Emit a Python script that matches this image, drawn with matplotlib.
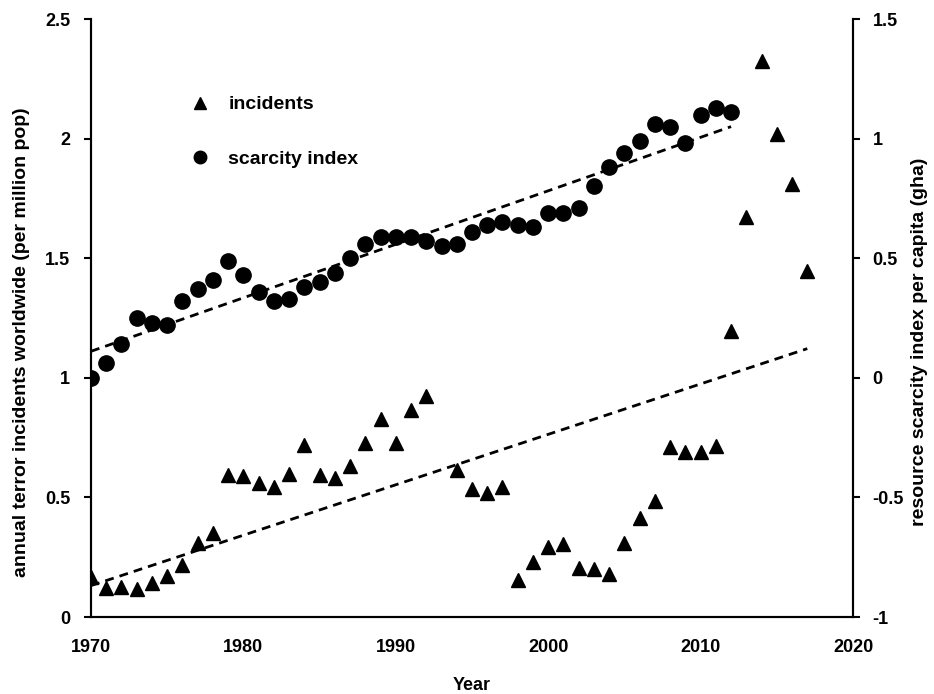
import numpy as np
import matplotlib
matplotlib.use("Agg")
import matplotlib.pyplot as plt
from matplotlib.lines import Line2D

# incidents (per million pop), 1993 missing
inc_years = [1970, 1971, 1972, 1973, 1974, 1975, 1976, 1977, 1978, 1979,
             1980, 1981, 1982, 1983, 1984, 1985, 1986, 1987, 1988, 1989,
             1990, 1991, 1992, 1994, 1995, 1996, 1997, 1998, 1999, 2000,
             2001, 2002, 2003, 2004, 2005, 2006, 2007, 2008, 2009, 2010,
             2011, 2012, 2013, 2014, 2015, 2016, 2017]
incidents = [0.166, 0.120, 0.127, 0.116, 0.143, 0.171, 0.217, 0.308, 0.350, 0.594,
             0.591, 0.561, 0.542, 0.598, 0.719, 0.594, 0.580, 0.631, 0.726, 0.826,
             0.729, 0.865, 0.924, 0.613, 0.536, 0.520, 0.545, 0.155, 0.229, 0.291,
             0.304, 0.204, 0.199, 0.178, 0.311, 0.413, 0.486, 0.709, 0.691, 0.691,
             0.715, 1.197, 1.674, 2.323, 2.020, 1.809, 1.448]

# resource scarcity index per capita (gha)
sc_years = list(range(1970, 2013))
scarcity = [0.00, 0.06, 0.14, 0.25, 0.23, 0.22, 0.32, 0.37, 0.41, 0.49,
            0.43, 0.36, 0.32, 0.33, 0.38, 0.40, 0.44, 0.50, 0.56, 0.59,
            0.59, 0.59, 0.57, 0.55, 0.56, 0.61, 0.64, 0.65, 0.64, 0.63,
            0.69, 0.69, 0.71, 0.80, 0.88, 0.94, 0.99, 1.06, 1.05, 0.98,
            1.10, 1.13, 1.11]

x_ticks = [1970, 1980, 1990, 2000, 2010, 2020]
left_ticks = [0, 0.5, 1, 1.5, 2, 2.5]
right_ticks = [-1, -0.5, 0, 0.5, 1, 1.5]

plt.rcParams['font.family'] = ['Liberation Sans', 'DejaVu Sans']
plt.rcParams['font.weight'] = 'bold'

fig = plt.figure(figsize=(9.34, 6.94), dpi=100)
ax = fig.add_axes([91/934, 1-617/694, (853-91)/934, (617-19)/694])
ax2 = ax.twinx()

dash = (0, (3.2, 2.2))

# incidents
ax.plot(inc_years, incidents, linestyle='none', marker='^', color='black',
        markersize=10.5, zorder=3)
p = np.polyfit(inc_years, incidents, 1)
xs = np.array([inc_years[0], inc_years[-1]])
ax.plot(xs, np.polyval(p, xs), linestyle=dash, color='black', lw=2.0)

# scarcity
ax2.plot(sc_years, scarcity, linestyle='none', marker='o', color='black',
         markersize=11, zorder=3)
p2 = np.polyfit(sc_years, scarcity, 1)
xs2 = np.array([sc_years[0], sc_years[-1]])
ax2.plot(xs2, np.polyval(p2, xs2), linestyle=dash, color='black', lw=2.0)

ax.set_xlim(1970, 2020)
ax.set_ylim(0, 2.5)
ax2.set_ylim(-1, 1.5)
ax.set_xticks(x_ticks)
ax.set_yticks(left_ticks)
ax.set_yticklabels([f"{t:g}" for t in left_ticks])
ax2.set_yticks(right_ticks)
ax2.set_yticklabels([f"{t:g}" for t in right_ticks])

for a in (ax, ax2):
    a.spines['top'].set_visible(False)
    for s in a.spines.values():
        s.set_linewidth(1.5)
    a.tick_params(direction='out', length=5, width=1.5, labelsize=13, pad=10)
ax.tick_params(axis='x', length=0, pad=16)
ax2.tick_params(axis='y', pad=9)

ax.set_xlabel('Year', fontsize=13, fontweight='bold')
ax.xaxis.set_label_coords(0.5, -(685 + 9 - 617) / 598, transform=ax.transAxes)
ax.xaxis.label.set_va('bottom')
ax.set_ylabel('annual terror incidents worldwide (per million pop)', fontsize=14,
              fontweight='bold')
ax.yaxis.set_label_coords(-(91 - 30) / 762, 0.46)
ax2.set_ylabel('resource scarcity index per capita (gha)', fontsize=14,
               fontweight='bold')
ax2.yaxis.set_label_coords(1 + (911 - 853) / 762, 0.46)

handles = [Line2D([], [], linestyle='none', marker='^', color='black', markersize=9),
           Line2D([], [], linestyle='none', marker='o', color='black', markersize=9)]
ax.legend(handles, ['incidents', 'scarcity index'], loc='upper left',
          bbox_to_anchor=(0.115, 0.888), frameon=False, labelspacing=1.9,
          handletextpad=0.85, handlelength=1.2, borderpad=0,
          prop={'size': 14, 'weight': 'bold'})

fig.savefig('out.png', dpi=100)
